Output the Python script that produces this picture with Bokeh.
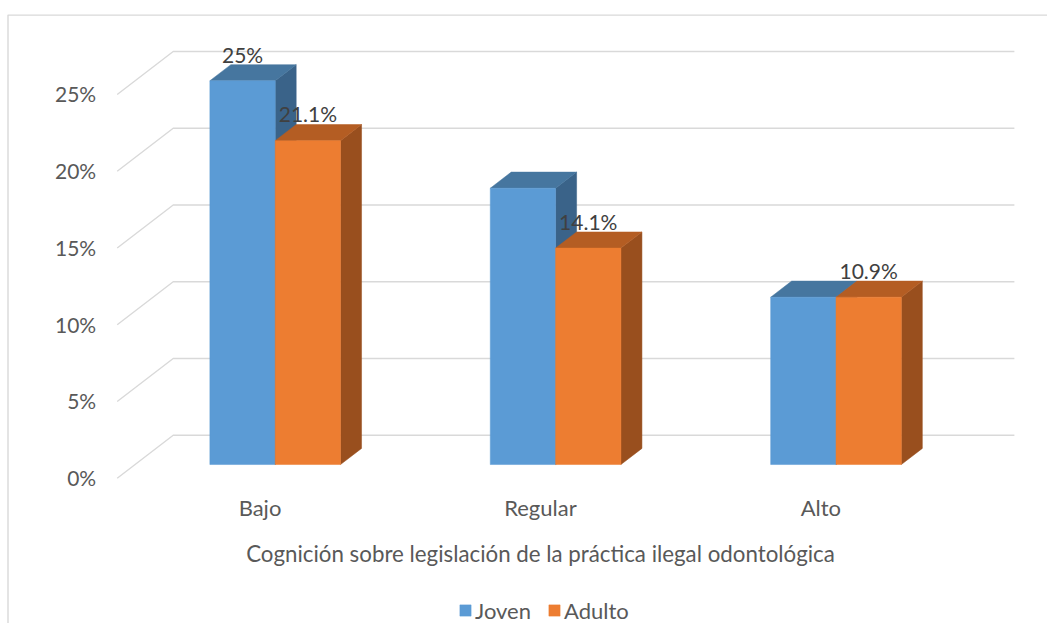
from bokeh.plotting import figure
from bokeh.models import Range1d, Legend, LegendItem
from bokeh.core.properties import value
from bokeh.embed import file_html
from bokeh.resources import INLINE

# ---------------- data ----------------
categories = ["Bajo", "Regular", "Alto"]
series_names = ["Joven", "Adulto"]
joven = [25.0, 18.0, 10.9]
adulto = [21.1, 14.1, 10.9]
show_label_joven = [True, False, False]
show_label_adulto = [True, True, True]
y_ticks = [0, 5, 10, 15, 20, 25]
y_tick_labels = ["0%", "5%", "10%", "15%", "20%", "25%"]
axis_title = "Cognición sobre legislación de la práctica ilegal odontológica"

# ---------------- styling / geometry ----------------
FONT = "Lato"
FRONT = ["#5B9BD5", "#ED7D31"]
TOPC = ["#46769F", "#B45D23"]
SIDEC = ["#3A6389", "#994F1E"]
GRID = "#D9D9D9"
TXT = "#595959"
LBL = "#404040"

W, H = 1047, 623
PX_PER_CAT = 280.4
PX_PER_PCT = 15.35
X0, Y0 = 116.7, 477.7      # pixel position of the front-left floor corner


def u_of(px):
    return (px - X0) / PX_PER_CAT


def v_of(py):
    return (Y0 - py) / PX_PER_PCT


DX = 56 / PX_PER_CAT      # depth shift (category units)
DY = 43 / PX_PER_PCT      # depth shift (percent units)
D0, D1 = 0.318, 0.693     # bar depth span
BW = 0.233                # bar width (category units)

p = figure(width=W, height=H, output_backend="svg", toolbar_location=None,
           x_axis_type=None, y_axis_type=None, min_border=0,
           x_range=Range1d(u_of(0), u_of(W)),
           y_range=Range1d(v_of(H), v_of(0)))
p.outline_line_color = None
p.grid.visible = False
p.background_fill_color = "white"
p.border_fill_color = "white"

# chart-area border (left + top)
p.line(x=[u_of(7.5), u_of(7.5), u_of(1100)], y=[v_of(700), v_of(14.6), v_of(14.6)],
       line_color=GRID, line_width=1.4)

# gridlines: diagonal on the left wall + back wall
ncat = len(categories)
gxs = [[0, DX, ncat + DX] for t in y_ticks]
gys = [[t, t + DY, t + DY] for t in y_ticks]
p.multi_line(xs=gxs, ys=gys, line_color=GRID, line_width=1.4)

# tick labels
p.text(x=[0] * len(y_ticks), y=y_ticks, text=y_tick_labels, x_offset=-21, y_offset=-0.5,
       text_align="right", text_baseline="alphabetic", text_font=value(FONT),
       text_font_size="21px", text_color=TXT)

# bars
front_renderers = []
for s, vals in enumerate([joven, adulto]):
    fl, fr, fb, ft = [], [], [], []
    txs, tys, sxs, sys_ = [], [], [], []
    for i, val in enumerate(vals):
        c = i + 0.5 + DX * D0
        left = c - BW + s * BW
        right = left + BW
        bottom = DY * D0
        top = bottom + val
        ddx = DX * (D1 - D0)
        ddy = DY * (D1 - D0)
        fl.append(left); fr.append(right); fb.append(bottom); ft.append(top)
        txs.append([left, right, right + ddx, left + ddx])
        tys.append([top, top, top + ddy, top + ddy])
        sxs.append([right, right + ddx, right + ddx, right])
        sys_.append([bottom, bottom + ddy, top + ddy, top])
    p.patches(xs=sxs, ys=sys_, fill_color=SIDEC[s], line_color=SIDEC[s], line_width=0.5)
    p.patches(xs=txs, ys=tys, fill_color=TOPC[s], line_color=TOPC[s], line_width=0.5)
    r = p.quad(left=fl, right=fr, bottom=fb, top=ft, fill_color=FRONT[s],
               line_color=FRONT[s], line_width=0.5)
    front_renderers.append(r)

# data labels
lx, ly, lt = [], [], []
for s, (vals, shown) in enumerate([(joven, show_label_joven), (adulto, show_label_adulto)]):
    for i, val in enumerate(vals):
        if not shown[i]:
            continue
        c = i + 0.5 + DX * D0
        left = c - BW + s * BW
        lx.append(left + BW / 2)
        ly.append(DY * D0 + val)
        lt.append(f"{val:g}%")
p.text(x=lx, y=ly, text=lt, y_offset=-26.7, text_align="center",
       text_baseline="alphabetic", text_font=value(FONT), text_font_size="21px",
       text_color=LBL)

# category labels
p.text(x=[i + 0.5 for i in range(ncat)], y=[0] * ncat, text=categories,
       x_offset=2.6, y_offset=28.8, text_align="center", text_baseline="alphabetic",
       text_font=value(FONT), text_font_size="22px", text_color=TXT)

# axis title
p.text(x=[ncat / 2], y=[0], text=[axis_title], x_offset=2.7, y_offset=75,
       text_align="center", text_baseline="alphabetic", text_font=value(FONT),
       text_font_size="22.3px", text_color=TXT)

# legend
legend = Legend(items=[LegendItem(label=series_names[k], renderers=[front_renderers[k]])
                       for k in range(2)],
                orientation="horizontal", location=(458, -0.5),
                glyph_width=14, glyph_height=14, label_standoff=3, spacing=16,
                padding=0, margin=0, border_line_color=None, background_fill_alpha=0,
                label_text_font=FONT, label_text_font_size="22px", label_text_color=TXT)
p.add_layout(legend)

open("out.html", "w").write(file_html(p, INLINE))
